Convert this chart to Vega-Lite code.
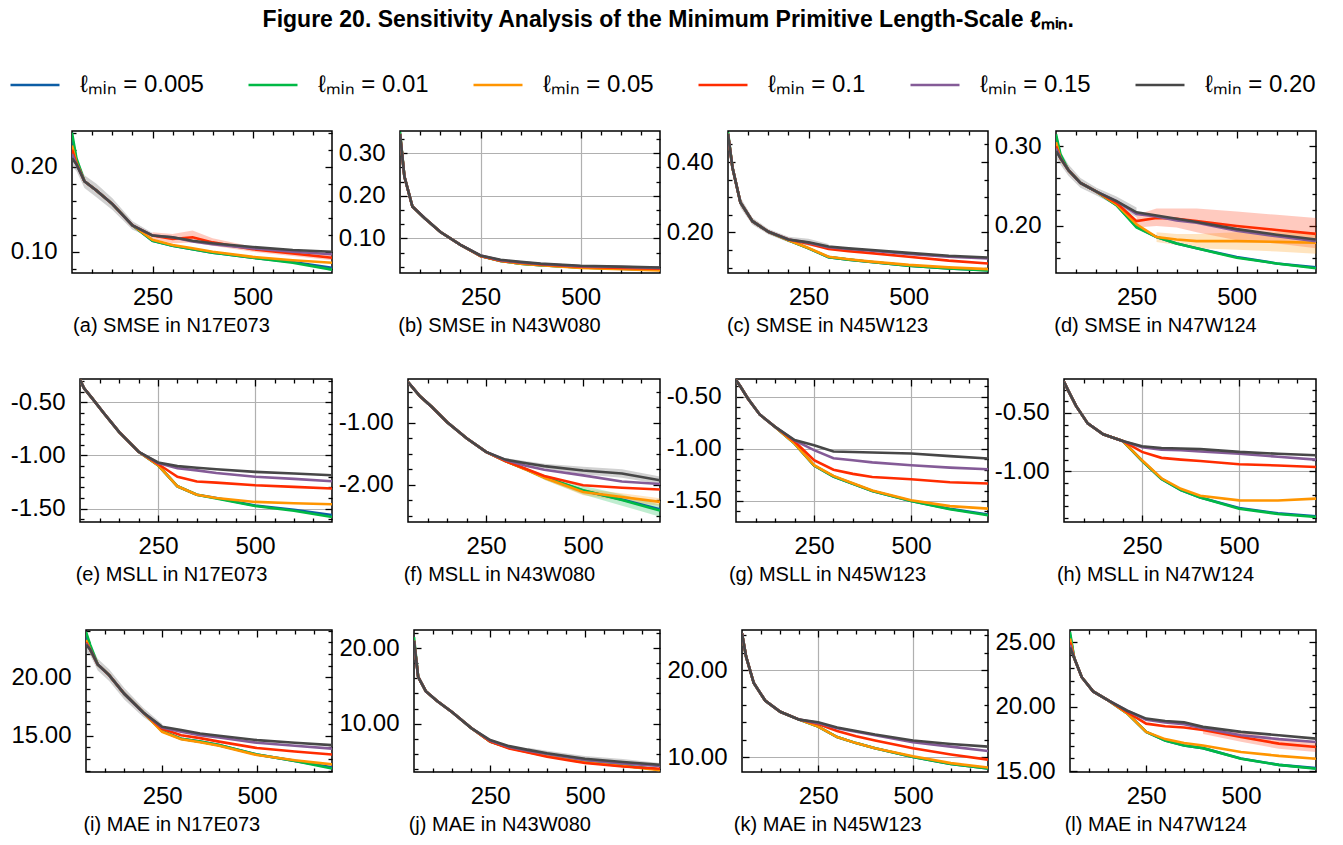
{
"$schema":"https://vega.github.io/schema/vega-lite/v6.json",
"padding":{"left":3,"top":9,"right":5,"bottom":5},
"title":{"text":"Figure 20.  Sensitivity Analysis of the Minimum Primitive Length-Scale ℓₘᵢₙ.","orient":"top","frame":"bounds","anchor":"middle","fontSize":23,"fontWeight":"bold","offset":27,"dx":8},
"datasets":{"bands":[
{"p":"a","s":"0.20","x":49,"lo":0.2,"hi":0.222},{"p":"a","s":"0.20","x":60,"lo":0.195,"hi":0.212},{"p":"a","s":"0.20","x":80,"lo":0.175,"hi":0.19},{"p":"a","s":"0.20","x":110,"lo":0.164,"hi":0.18},{"p":"a","s":"0.20","x":150,"lo":0.149,"hi":0.163},{"p":"a","s":"0.20","x":200,"lo":0.126,"hi":0.136},{"p":"a","s":"0.20","x":250,"lo":0.116,"hi":0.122},
{"p":"a","s":"0.1","x":250,"lo":0.115,"hi":0.123},{"p":"a","s":"0.1","x":300,"lo":0.11,"hi":0.121},{"p":"a","s":"0.1","x":350,"lo":0.111,"hi":0.125},{"p":"a","s":"0.1","x":400,"lo":0.107,"hi":0.116},{"p":"a","s":"0.1","x":500,"lo":0.1,"hi":0.106},{"p":"a","s":"0.1","x":600,"lo":0.095,"hi":0.101},{"p":"a","s":"0.1","x":698,"lo":0.09,"hi":0.096},
{"p":"c","s":"0.20","x":49,"lo":0.47,"hi":0.488},{"p":"c","s":"0.20","x":60,"lo":0.37,"hi":0.4},{"p":"c","s":"0.20","x":80,"lo":0.27,"hi":0.3},{"p":"c","s":"0.20","x":110,"lo":0.222,"hi":0.242},{"p":"c","s":"0.20","x":150,"lo":0.194,"hi":0.21},{"p":"c","s":"0.20","x":200,"lo":0.172,"hi":0.188},{"p":"c","s":"0.20","x":250,"lo":0.162,"hi":0.182},{"p":"c","s":"0.20","x":300,"lo":0.153,"hi":0.167},
{"p":"d","s":"0.1","x":250,"lo":0.198,"hi":0.214},{"p":"d","s":"0.1","x":300,"lo":0.2,"hi":0.222},{"p":"d","s":"0.1","x":350,"lo":0.198,"hi":0.222},{"p":"d","s":"0.1","x":400,"lo":0.192,"hi":0.222},{"p":"d","s":"0.1","x":500,"lo":0.182,"hi":0.218},{"p":"d","s":"0.1","x":600,"lo":0.178,"hi":0.214},{"p":"d","s":"0.1","x":698,"lo":0.172,"hi":0.21},
{"p":"d","s":"0.05","x":300,"lo":0.18,"hi":0.192},{"p":"d","s":"0.05","x":350,"lo":0.176,"hi":0.19},{"p":"d","s":"0.05","x":400,"lo":0.172,"hi":0.19},{"p":"d","s":"0.05","x":500,"lo":0.17,"hi":0.192},{"p":"d","s":"0.05","x":600,"lo":0.168,"hi":0.192},{"p":"d","s":"0.05","x":698,"lo":0.165,"hi":0.192},
{"p":"d","s":"0.20","x":49,"lo":0.285,"hi":0.303},{"p":"d","s":"0.20","x":60,"lo":0.277,"hi":0.293},{"p":"d","s":"0.20","x":80,"lo":0.263,"hi":0.277},{"p":"d","s":"0.20","x":110,"lo":0.248,"hi":0.26},{"p":"d","s":"0.20","x":150,"lo":0.238,"hi":0.248},{"p":"d","s":"0.20","x":200,"lo":0.225,"hi":0.237},{"p":"d","s":"0.20","x":250,"lo":0.211,"hi":0.223},
{"p":"f","s":"0.01","x":350,"lo":-1.77,"hi":-1.72},{"p":"f","s":"0.01","x":400,"lo":-1.92,"hi":-1.84},{"p":"f","s":"0.01","x":500,"lo":-2.16,"hi":-2.02},{"p":"f","s":"0.01","x":600,"lo":-2.34,"hi":-2.16},{"p":"f","s":"0.01","x":698,"lo":-2.52,"hi":-2.32},
{"p":"f","s":"0.05","x":400,"lo":-1.92,"hi":-1.86},{"p":"f","s":"0.05","x":500,"lo":-2.17,"hi":-2.07},{"p":"f","s":"0.05","x":600,"lo":-2.26,"hi":-2.14},{"p":"f","s":"0.05","x":698,"lo":-2.34,"hi":-2.22},
{"p":"f","s":"0.20","x":300,"lo":-1.62,"hi":-1.57},{"p":"f","s":"0.20","x":400,"lo":-1.74,"hi":-1.66},{"p":"f","s":"0.20","x":500,"lo":-1.83,"hi":-1.71},{"p":"f","s":"0.20","x":600,"lo":-1.89,"hi":-1.75},{"p":"f","s":"0.20","x":698,"lo":-1.99,"hi":-1.87},
{"p":"i","s":"0.20","x":49,"lo":22.2,"hi":23.4},{"p":"i","s":"0.20","x":60,"lo":21.9,"hi":22.9},{"p":"i","s":"0.20","x":80,"lo":20.6,"hi":21.6},{"p":"i","s":"0.20","x":110,"lo":19.7,"hi":20.7},{"p":"i","s":"0.20","x":150,"lo":18.1,"hi":19.1},{"p":"i","s":"0.20","x":200,"lo":16.6,"hi":17.4},{"p":"i","s":"0.20","x":250,"lo":15.5,"hi":16},
{"p":"j","s":"0.20","x":350,"lo":6.2,"hi":6.8},{"p":"j","s":"0.20","x":400,"lo":5.7,"hi":6.4},{"p":"j","s":"0.20","x":500,"lo":4.95,"hi":5.7},{"p":"j","s":"0.20","x":600,"lo":4.5,"hi":5.3},{"p":"j","s":"0.20","x":698,"lo":4.3,"hi":4.75},
{"p":"l","s":"0.1","x":400,"lo":17.9,"hi":18.5},{"p":"l","s":"0.1","x":500,"lo":17.3,"hi":18.05},{"p":"l","s":"0.1","x":600,"lo":16.75,"hi":17.55},{"p":"l","s":"0.1","x":698,"lo":16.5,"hi":17.3}
]},
"data":{"values":[
{"p":"a","s":"0.005","x":49,"y":0.235},{"p":"a","s":"0.005","x":60,"y":0.207},{"p":"a","s":"0.005","x":80,"y":0.183},{"p":"a","s":"0.005","x":110,"y":0.172},{"p":"a","s":"0.005","x":150,"y":0.156},{"p":"a","s":"0.005","x":200,"y":0.131},{"p":"a","s":"0.005","x":250,"y":0.113},{"p":"a","s":"0.005","x":300,"y":0.107},{"p":"a","s":"0.005","x":350,"y":0.103},{"p":"a","s":"0.005","x":400,"y":0.099},{"p":"a","s":"0.005","x":500,"y":0.093},{"p":"a","s":"0.005","x":600,"y":0.088},{"p":"a","s":"0.005","x":698,"y":0.081},
{"p":"a","s":"0.01","x":49,"y":0.24},{"p":"a","s":"0.01","x":60,"y":0.21},{"p":"a","s":"0.01","x":80,"y":0.183},{"p":"a","s":"0.01","x":110,"y":0.172},{"p":"a","s":"0.01","x":150,"y":0.156},{"p":"a","s":"0.01","x":200,"y":0.131},{"p":"a","s":"0.01","x":250,"y":0.113},{"p":"a","s":"0.01","x":300,"y":0.107},{"p":"a","s":"0.01","x":350,"y":0.103},{"p":"a","s":"0.01","x":400,"y":0.099},{"p":"a","s":"0.01","x":500,"y":0.093},{"p":"a","s":"0.01","x":600,"y":0.087},{"p":"a","s":"0.01","x":698,"y":0.079},
{"p":"a","s":"0.05","x":49,"y":0.225},{"p":"a","s":"0.05","x":60,"y":0.205},{"p":"a","s":"0.05","x":80,"y":0.183},{"p":"a","s":"0.05","x":110,"y":0.172},{"p":"a","s":"0.05","x":150,"y":0.156},{"p":"a","s":"0.05","x":200,"y":0.131},{"p":"a","s":"0.05","x":250,"y":0.114},{"p":"a","s":"0.05","x":300,"y":0.108},{"p":"a","s":"0.05","x":350,"y":0.104},{"p":"a","s":"0.05","x":400,"y":0.1},{"p":"a","s":"0.05","x":500,"y":0.094},{"p":"a","s":"0.05","x":600,"y":0.09},{"p":"a","s":"0.05","x":698,"y":0.087},
{"p":"a","s":"0.1","x":49,"y":0.22},{"p":"a","s":"0.1","x":60,"y":0.204},{"p":"a","s":"0.1","x":80,"y":0.183},{"p":"a","s":"0.1","x":110,"y":0.172},{"p":"a","s":"0.1","x":150,"y":0.156},{"p":"a","s":"0.1","x":200,"y":0.131},{"p":"a","s":"0.1","x":250,"y":0.119},{"p":"a","s":"0.1","x":300,"y":0.115},{"p":"a","s":"0.1","x":350,"y":0.117},{"p":"a","s":"0.1","x":400,"y":0.111},{"p":"a","s":"0.1","x":500,"y":0.103},{"p":"a","s":"0.1","x":600,"y":0.098},{"p":"a","s":"0.1","x":698,"y":0.093},
{"p":"a","s":"0.15","x":49,"y":0.215},{"p":"a","s":"0.15","x":60,"y":0.203},{"p":"a","s":"0.15","x":80,"y":0.183},{"p":"a","s":"0.15","x":110,"y":0.172},{"p":"a","s":"0.15","x":150,"y":0.156},{"p":"a","s":"0.15","x":200,"y":0.131},{"p":"a","s":"0.15","x":250,"y":0.119},{"p":"a","s":"0.15","x":300,"y":0.117},{"p":"a","s":"0.15","x":350,"y":0.112},{"p":"a","s":"0.15","x":400,"y":0.109},{"p":"a","s":"0.15","x":500,"y":0.104},{"p":"a","s":"0.15","x":600,"y":0.1},{"p":"a","s":"0.15","x":698,"y":0.097},
{"p":"a","s":"0.20","x":49,"y":0.21},{"p":"a","s":"0.20","x":60,"y":0.203},{"p":"a","s":"0.20","x":80,"y":0.183},{"p":"a","s":"0.20","x":110,"y":0.172},{"p":"a","s":"0.20","x":150,"y":0.156},{"p":"a","s":"0.20","x":200,"y":0.131},{"p":"a","s":"0.20","x":250,"y":0.119},{"p":"a","s":"0.20","x":300,"y":0.117},{"p":"a","s":"0.20","x":350,"y":0.113},{"p":"a","s":"0.20","x":400,"y":0.11},{"p":"a","s":"0.20","x":500,"y":0.1055},{"p":"a","s":"0.20","x":600,"y":0.102},{"p":"a","s":"0.20","x":698,"y":0.1},
{"p":"b","s":"0.005","x":49,"y":0.345},{"p":"b","s":"0.005","x":60,"y":0.245},{"p":"b","s":"0.005","x":80,"y":0.175},{"p":"b","s":"0.005","x":110,"y":0.148},{"p":"b","s":"0.005","x":150,"y":0.115},{"p":"b","s":"0.005","x":200,"y":0.085},{"p":"b","s":"0.005","x":250,"y":0.059},{"p":"b","s":"0.005","x":300,"y":0.047},{"p":"b","s":"0.005","x":350,"y":0.041},{"p":"b","s":"0.005","x":400,"y":0.037},{"p":"b","s":"0.005","x":500,"y":0.032},{"p":"b","s":"0.005","x":600,"y":0.029},{"p":"b","s":"0.005","x":698,"y":0.027},
{"p":"b","s":"0.01","x":49,"y":0.35},{"p":"b","s":"0.01","x":60,"y":0.245},{"p":"b","s":"0.01","x":80,"y":0.175},{"p":"b","s":"0.01","x":110,"y":0.148},{"p":"b","s":"0.01","x":150,"y":0.115},{"p":"b","s":"0.01","x":200,"y":0.085},{"p":"b","s":"0.01","x":250,"y":0.059},{"p":"b","s":"0.01","x":300,"y":0.047},{"p":"b","s":"0.01","x":350,"y":0.041},{"p":"b","s":"0.01","x":400,"y":0.037},{"p":"b","s":"0.01","x":500,"y":0.032},{"p":"b","s":"0.01","x":600,"y":0.029},{"p":"b","s":"0.01","x":698,"y":0.027},
{"p":"b","s":"0.05","x":49,"y":0.345},{"p":"b","s":"0.05","x":60,"y":0.245},{"p":"b","s":"0.05","x":80,"y":0.175},{"p":"b","s":"0.05","x":110,"y":0.148},{"p":"b","s":"0.05","x":150,"y":0.115},{"p":"b","s":"0.05","x":200,"y":0.085},{"p":"b","s":"0.05","x":250,"y":0.059},{"p":"b","s":"0.05","x":300,"y":0.047},{"p":"b","s":"0.05","x":350,"y":0.041},{"p":"b","s":"0.05","x":400,"y":0.037},{"p":"b","s":"0.05","x":500,"y":0.031},{"p":"b","s":"0.05","x":600,"y":0.028},{"p":"b","s":"0.05","x":698,"y":0.025},
{"p":"b","s":"0.1","x":49,"y":0.345},{"p":"b","s":"0.1","x":60,"y":0.245},{"p":"b","s":"0.1","x":80,"y":0.175},{"p":"b","s":"0.1","x":110,"y":0.148},{"p":"b","s":"0.1","x":150,"y":0.115},{"p":"b","s":"0.1","x":200,"y":0.085},{"p":"b","s":"0.1","x":250,"y":0.059},{"p":"b","s":"0.1","x":300,"y":0.048},{"p":"b","s":"0.1","x":350,"y":0.043},{"p":"b","s":"0.1","x":400,"y":0.039},{"p":"b","s":"0.1","x":500,"y":0.034},{"p":"b","s":"0.1","x":600,"y":0.031},{"p":"b","s":"0.1","x":698,"y":0.029},
{"p":"b","s":"0.15","x":49,"y":0.345},{"p":"b","s":"0.15","x":60,"y":0.245},{"p":"b","s":"0.15","x":80,"y":0.175},{"p":"b","s":"0.15","x":110,"y":0.148},{"p":"b","s":"0.15","x":150,"y":0.115},{"p":"b","s":"0.15","x":200,"y":0.085},{"p":"b","s":"0.15","x":250,"y":0.06},{"p":"b","s":"0.15","x":300,"y":0.049},{"p":"b","s":"0.15","x":350,"y":0.044},{"p":"b","s":"0.15","x":400,"y":0.04},{"p":"b","s":"0.15","x":500,"y":0.035},{"p":"b","s":"0.15","x":600,"y":0.033},{"p":"b","s":"0.15","x":698,"y":0.031},
{"p":"b","s":"0.20","x":49,"y":0.345},{"p":"b","s":"0.20","x":60,"y":0.245},{"p":"b","s":"0.20","x":80,"y":0.175},{"p":"b","s":"0.20","x":110,"y":0.148},{"p":"b","s":"0.20","x":150,"y":0.115},{"p":"b","s":"0.20","x":200,"y":0.085},{"p":"b","s":"0.20","x":250,"y":0.06},{"p":"b","s":"0.20","x":300,"y":0.05},{"p":"b","s":"0.20","x":350,"y":0.045},{"p":"b","s":"0.20","x":400,"y":0.041},{"p":"b","s":"0.20","x":500,"y":0.036},{"p":"b","s":"0.20","x":600,"y":0.034},{"p":"b","s":"0.20","x":698,"y":0.032},
{"p":"c","s":"0.005","x":49,"y":0.48},{"p":"c","s":"0.005","x":60,"y":0.385},{"p":"c","s":"0.005","x":80,"y":0.285},{"p":"c","s":"0.005","x":110,"y":0.232},{"p":"c","s":"0.005","x":150,"y":0.202},{"p":"c","s":"0.005","x":200,"y":0.178},{"p":"c","s":"0.005","x":250,"y":0.155},{"p":"c","s":"0.005","x":300,"y":0.13},{"p":"c","s":"0.005","x":350,"y":0.123},{"p":"c","s":"0.005","x":400,"y":0.117},{"p":"c","s":"0.005","x":500,"y":0.106},{"p":"c","s":"0.005","x":600,"y":0.098},{"p":"c","s":"0.005","x":698,"y":0.093},
{"p":"c","s":"0.01","x":49,"y":0.485},{"p":"c","s":"0.01","x":60,"y":0.385},{"p":"c","s":"0.01","x":80,"y":0.285},{"p":"c","s":"0.01","x":110,"y":0.232},{"p":"c","s":"0.01","x":150,"y":0.202},{"p":"c","s":"0.01","x":200,"y":0.178},{"p":"c","s":"0.01","x":250,"y":0.155},{"p":"c","s":"0.01","x":300,"y":0.13},{"p":"c","s":"0.01","x":350,"y":0.123},{"p":"c","s":"0.01","x":400,"y":0.117},{"p":"c","s":"0.01","x":500,"y":0.106},{"p":"c","s":"0.01","x":600,"y":0.098},{"p":"c","s":"0.01","x":698,"y":0.092},
{"p":"c","s":"0.05","x":49,"y":0.48},{"p":"c","s":"0.05","x":60,"y":0.385},{"p":"c","s":"0.05","x":80,"y":0.285},{"p":"c","s":"0.05","x":110,"y":0.232},{"p":"c","s":"0.05","x":150,"y":0.202},{"p":"c","s":"0.05","x":200,"y":0.178},{"p":"c","s":"0.05","x":250,"y":0.156},{"p":"c","s":"0.05","x":300,"y":0.131},{"p":"c","s":"0.05","x":350,"y":0.124},{"p":"c","s":"0.05","x":400,"y":0.118},{"p":"c","s":"0.05","x":500,"y":0.108},{"p":"c","s":"0.05","x":600,"y":0.101},{"p":"c","s":"0.05","x":698,"y":0.096},
{"p":"c","s":"0.1","x":49,"y":0.48},{"p":"c","s":"0.1","x":60,"y":0.385},{"p":"c","s":"0.1","x":80,"y":0.285},{"p":"c","s":"0.1","x":110,"y":0.232},{"p":"c","s":"0.1","x":150,"y":0.202},{"p":"c","s":"0.1","x":200,"y":0.18},{"p":"c","s":"0.1","x":250,"y":0.168},{"p":"c","s":"0.1","x":300,"y":0.153},{"p":"c","s":"0.1","x":350,"y":0.147},{"p":"c","s":"0.1","x":400,"y":0.142},{"p":"c","s":"0.1","x":500,"y":0.131},{"p":"c","s":"0.1","x":600,"y":0.12},{"p":"c","s":"0.1","x":698,"y":0.112},
{"p":"c","s":"0.15","x":49,"y":0.48},{"p":"c","s":"0.15","x":60,"y":0.385},{"p":"c","s":"0.15","x":80,"y":0.285},{"p":"c","s":"0.15","x":110,"y":0.232},{"p":"c","s":"0.15","x":150,"y":0.202},{"p":"c","s":"0.15","x":200,"y":0.18},{"p":"c","s":"0.15","x":250,"y":0.171},{"p":"c","s":"0.15","x":300,"y":0.158},{"p":"c","s":"0.15","x":350,"y":0.153},{"p":"c","s":"0.15","x":400,"y":0.149},{"p":"c","s":"0.15","x":500,"y":0.139},{"p":"c","s":"0.15","x":600,"y":0.131},{"p":"c","s":"0.15","x":698,"y":0.126},
{"p":"c","s":"0.20","x":49,"y":0.48},{"p":"c","s":"0.20","x":60,"y":0.385},{"p":"c","s":"0.20","x":80,"y":0.285},{"p":"c","s":"0.20","x":110,"y":0.232},{"p":"c","s":"0.20","x":150,"y":0.202},{"p":"c","s":"0.20","x":200,"y":0.18},{"p":"c","s":"0.20","x":250,"y":0.172},{"p":"c","s":"0.20","x":300,"y":0.16},{"p":"c","s":"0.20","x":350,"y":0.155},{"p":"c","s":"0.20","x":400,"y":0.151},{"p":"c","s":"0.20","x":500,"y":0.142},{"p":"c","s":"0.20","x":600,"y":0.134},{"p":"c","s":"0.20","x":698,"y":0.129},
{"p":"d","s":"0.005","x":49,"y":0.312},{"p":"d","s":"0.005","x":60,"y":0.287},{"p":"d","s":"0.005","x":80,"y":0.27},{"p":"d","s":"0.005","x":110,"y":0.254},{"p":"d","s":"0.005","x":150,"y":0.243},{"p":"d","s":"0.005","x":200,"y":0.226},{"p":"d","s":"0.005","x":250,"y":0.199},{"p":"d","s":"0.005","x":300,"y":0.186},{"p":"d","s":"0.005","x":350,"y":0.178},{"p":"d","s":"0.005","x":400,"y":0.172},{"p":"d","s":"0.005","x":500,"y":0.161},{"p":"d","s":"0.005","x":600,"y":0.153},{"p":"d","s":"0.005","x":698,"y":0.148},
{"p":"d","s":"0.01","x":49,"y":0.315},{"p":"d","s":"0.01","x":60,"y":0.29},{"p":"d","s":"0.01","x":80,"y":0.27},{"p":"d","s":"0.01","x":110,"y":0.254},{"p":"d","s":"0.01","x":150,"y":0.243},{"p":"d","s":"0.01","x":200,"y":0.226},{"p":"d","s":"0.01","x":250,"y":0.198},{"p":"d","s":"0.01","x":300,"y":0.186},{"p":"d","s":"0.01","x":350,"y":0.178},{"p":"d","s":"0.01","x":400,"y":0.172},{"p":"d","s":"0.01","x":500,"y":0.16},{"p":"d","s":"0.01","x":600,"y":0.153},{"p":"d","s":"0.01","x":698,"y":0.147},
{"p":"d","s":"0.05","x":49,"y":0.305},{"p":"d","s":"0.05","x":60,"y":0.285},{"p":"d","s":"0.05","x":80,"y":0.27},{"p":"d","s":"0.05","x":110,"y":0.254},{"p":"d","s":"0.05","x":150,"y":0.243},{"p":"d","s":"0.05","x":200,"y":0.227},{"p":"d","s":"0.05","x":250,"y":0.202},{"p":"d","s":"0.05","x":300,"y":0.186},{"p":"d","s":"0.05","x":350,"y":0.183},{"p":"d","s":"0.05","x":400,"y":0.181},{"p":"d","s":"0.05","x":500,"y":0.181},{"p":"d","s":"0.05","x":600,"y":0.18},{"p":"d","s":"0.05","x":698,"y":0.179},
{"p":"d","s":"0.1","x":49,"y":0.3},{"p":"d","s":"0.1","x":60,"y":0.285},{"p":"d","s":"0.1","x":80,"y":0.27},{"p":"d","s":"0.1","x":110,"y":0.254},{"p":"d","s":"0.1","x":150,"y":0.243},{"p":"d","s":"0.1","x":200,"y":0.229},{"p":"d","s":"0.1","x":250,"y":0.206},{"p":"d","s":"0.1","x":300,"y":0.21},{"p":"d","s":"0.1","x":350,"y":0.209},{"p":"d","s":"0.1","x":400,"y":0.206},{"p":"d","s":"0.1","x":500,"y":0.2},{"p":"d","s":"0.1","x":600,"y":0.195},{"p":"d","s":"0.1","x":698,"y":0.19},
{"p":"d","s":"0.15","x":49,"y":0.297},{"p":"d","s":"0.15","x":60,"y":0.285},{"p":"d","s":"0.15","x":80,"y":0.27},{"p":"d","s":"0.15","x":110,"y":0.254},{"p":"d","s":"0.15","x":150,"y":0.243},{"p":"d","s":"0.15","x":200,"y":0.231},{"p":"d","s":"0.15","x":250,"y":0.215},{"p":"d","s":"0.15","x":300,"y":0.212},{"p":"d","s":"0.15","x":350,"y":0.207},{"p":"d","s":"0.15","x":400,"y":0.204},{"p":"d","s":"0.15","x":500,"y":0.194},{"p":"d","s":"0.15","x":600,"y":0.187},{"p":"d","s":"0.15","x":698,"y":0.181},
{"p":"d","s":"0.20","x":49,"y":0.294},{"p":"d","s":"0.20","x":60,"y":0.285},{"p":"d","s":"0.20","x":80,"y":0.27},{"p":"d","s":"0.20","x":110,"y":0.254},{"p":"d","s":"0.20","x":150,"y":0.243},{"p":"d","s":"0.20","x":200,"y":0.231},{"p":"d","s":"0.20","x":250,"y":0.217},{"p":"d","s":"0.20","x":300,"y":0.213},{"p":"d","s":"0.20","x":350,"y":0.209},{"p":"d","s":"0.20","x":400,"y":0.205},{"p":"d","s":"0.20","x":500,"y":0.196},{"p":"d","s":"0.20","x":600,"y":0.189},{"p":"d","s":"0.20","x":698,"y":0.183},
{"p":"e","s":"0.005","x":49,"y":-0.29},{"p":"e","s":"0.005","x":60,"y":-0.37},{"p":"e","s":"0.005","x":80,"y":-0.46},{"p":"e","s":"0.005","x":110,"y":-0.6},{"p":"e","s":"0.005","x":150,"y":-0.78},{"p":"e","s":"0.005","x":200,"y":-0.965},{"p":"e","s":"0.005","x":250,"y":-1.09},{"p":"e","s":"0.005","x":300,"y":-1.29},{"p":"e","s":"0.005","x":350,"y":-1.37},{"p":"e","s":"0.005","x":400,"y":-1.4},{"p":"e","s":"0.005","x":500,"y":-1.47},{"p":"e","s":"0.005","x":600,"y":-1.51},{"p":"e","s":"0.005","x":698,"y":-1.56},
{"p":"e","s":"0.01","x":49,"y":-0.29},{"p":"e","s":"0.01","x":60,"y":-0.37},{"p":"e","s":"0.01","x":80,"y":-0.46},{"p":"e","s":"0.01","x":110,"y":-0.6},{"p":"e","s":"0.01","x":150,"y":-0.78},{"p":"e","s":"0.01","x":200,"y":-0.965},{"p":"e","s":"0.01","x":250,"y":-1.09},{"p":"e","s":"0.01","x":300,"y":-1.29},{"p":"e","s":"0.01","x":350,"y":-1.37},{"p":"e","s":"0.01","x":400,"y":-1.405},{"p":"e","s":"0.01","x":500,"y":-1.475},{"p":"e","s":"0.01","x":600,"y":-1.52},{"p":"e","s":"0.01","x":698,"y":-1.579},
{"p":"e","s":"0.05","x":49,"y":-0.29},{"p":"e","s":"0.05","x":60,"y":-0.37},{"p":"e","s":"0.05","x":80,"y":-0.46},{"p":"e","s":"0.05","x":110,"y":-0.6},{"p":"e","s":"0.05","x":150,"y":-0.78},{"p":"e","s":"0.05","x":200,"y":-0.965},{"p":"e","s":"0.05","x":250,"y":-1.09},{"p":"e","s":"0.05","x":300,"y":-1.29},{"p":"e","s":"0.05","x":350,"y":-1.37},{"p":"e","s":"0.05","x":400,"y":-1.4},{"p":"e","s":"0.05","x":500,"y":-1.437},{"p":"e","s":"0.05","x":600,"y":-1.45},{"p":"e","s":"0.05","x":698,"y":-1.459},
{"p":"e","s":"0.1","x":49,"y":-0.29},{"p":"e","s":"0.1","x":60,"y":-0.37},{"p":"e","s":"0.1","x":80,"y":-0.46},{"p":"e","s":"0.1","x":110,"y":-0.6},{"p":"e","s":"0.1","x":150,"y":-0.78},{"p":"e","s":"0.1","x":200,"y":-0.965},{"p":"e","s":"0.1","x":250,"y":-1.08},{"p":"e","s":"0.1","x":300,"y":-1.2},{"p":"e","s":"0.1","x":350,"y":-1.245},{"p":"e","s":"0.1","x":400,"y":-1.255},{"p":"e","s":"0.1","x":500,"y":-1.28},{"p":"e","s":"0.1","x":600,"y":-1.295},{"p":"e","s":"0.1","x":698,"y":-1.311},
{"p":"e","s":"0.15","x":49,"y":-0.29},{"p":"e","s":"0.15","x":60,"y":-0.37},{"p":"e","s":"0.15","x":80,"y":-0.46},{"p":"e","s":"0.15","x":110,"y":-0.6},{"p":"e","s":"0.15","x":150,"y":-0.78},{"p":"e","s":"0.15","x":200,"y":-0.965},{"p":"e","s":"0.15","x":250,"y":-1.07},{"p":"e","s":"0.15","x":300,"y":-1.12},{"p":"e","s":"0.15","x":350,"y":-1.14},{"p":"e","s":"0.15","x":400,"y":-1.165},{"p":"e","s":"0.15","x":500,"y":-1.2},{"p":"e","s":"0.15","x":600,"y":-1.22},{"p":"e","s":"0.15","x":698,"y":-1.242},
{"p":"e","s":"0.20","x":49,"y":-0.29},{"p":"e","s":"0.20","x":60,"y":-0.37},{"p":"e","s":"0.20","x":80,"y":-0.46},{"p":"e","s":"0.20","x":110,"y":-0.6},{"p":"e","s":"0.20","x":150,"y":-0.78},{"p":"e","s":"0.20","x":200,"y":-0.965},{"p":"e","s":"0.20","x":250,"y":-1.066},{"p":"e","s":"0.20","x":300,"y":-1.1},{"p":"e","s":"0.20","x":350,"y":-1.115},{"p":"e","s":"0.20","x":400,"y":-1.13},{"p":"e","s":"0.20","x":500,"y":-1.154},{"p":"e","s":"0.20","x":600,"y":-1.17},{"p":"e","s":"0.20","x":698,"y":-1.186},
{"p":"f","s":"0.005","x":49,"y":-0.34},{"p":"f","s":"0.005","x":60,"y":-0.42},{"p":"f","s":"0.005","x":80,"y":-0.57},{"p":"f","s":"0.005","x":110,"y":-0.74},{"p":"f","s":"0.005","x":150,"y":-0.99},{"p":"f","s":"0.005","x":200,"y":-1.25},{"p":"f","s":"0.005","x":250,"y":-1.47},{"p":"f","s":"0.005","x":300,"y":-1.62},{"p":"f","s":"0.005","x":350,"y":-1.745},{"p":"f","s":"0.005","x":400,"y":-1.88},{"p":"f","s":"0.005","x":500,"y":-2.1},{"p":"f","s":"0.005","x":600,"y":-2.24},{"p":"f","s":"0.005","x":698,"y":-2.4},
{"p":"f","s":"0.01","x":49,"y":-0.34},{"p":"f","s":"0.01","x":60,"y":-0.42},{"p":"f","s":"0.01","x":80,"y":-0.57},{"p":"f","s":"0.01","x":110,"y":-0.74},{"p":"f","s":"0.01","x":150,"y":-0.99},{"p":"f","s":"0.01","x":200,"y":-1.25},{"p":"f","s":"0.01","x":250,"y":-1.47},{"p":"f","s":"0.01","x":300,"y":-1.62},{"p":"f","s":"0.01","x":350,"y":-1.745},{"p":"f","s":"0.01","x":400,"y":-1.88},{"p":"f","s":"0.01","x":500,"y":-2.09},{"p":"f","s":"0.01","x":600,"y":-2.25},{"p":"f","s":"0.01","x":698,"y":-2.42},
{"p":"f","s":"0.05","x":49,"y":-0.34},{"p":"f","s":"0.05","x":60,"y":-0.42},{"p":"f","s":"0.05","x":80,"y":-0.57},{"p":"f","s":"0.05","x":110,"y":-0.74},{"p":"f","s":"0.05","x":150,"y":-0.99},{"p":"f","s":"0.05","x":200,"y":-1.25},{"p":"f","s":"0.05","x":250,"y":-1.47},{"p":"f","s":"0.05","x":300,"y":-1.62},{"p":"f","s":"0.05","x":350,"y":-1.75},{"p":"f","s":"0.05","x":400,"y":-1.89},{"p":"f","s":"0.05","x":500,"y":-2.12},{"p":"f","s":"0.05","x":600,"y":-2.2},{"p":"f","s":"0.05","x":698,"y":-2.28},
{"p":"f","s":"0.1","x":49,"y":-0.34},{"p":"f","s":"0.1","x":60,"y":-0.42},{"p":"f","s":"0.1","x":80,"y":-0.57},{"p":"f","s":"0.1","x":110,"y":-0.74},{"p":"f","s":"0.1","x":150,"y":-0.99},{"p":"f","s":"0.1","x":200,"y":-1.25},{"p":"f","s":"0.1","x":250,"y":-1.47},{"p":"f","s":"0.1","x":300,"y":-1.62},{"p":"f","s":"0.1","x":350,"y":-1.74},{"p":"f","s":"0.1","x":400,"y":-1.86},{"p":"f","s":"0.1","x":500,"y":-2.01},{"p":"f","s":"0.1","x":600,"y":-2.05},{"p":"f","s":"0.1","x":698,"y":-2.08},
{"p":"f","s":"0.15","x":49,"y":-0.34},{"p":"f","s":"0.15","x":60,"y":-0.42},{"p":"f","s":"0.15","x":80,"y":-0.57},{"p":"f","s":"0.15","x":110,"y":-0.74},{"p":"f","s":"0.15","x":150,"y":-0.99},{"p":"f","s":"0.15","x":200,"y":-1.25},{"p":"f","s":"0.15","x":250,"y":-1.47},{"p":"f","s":"0.15","x":300,"y":-1.6},{"p":"f","s":"0.15","x":350,"y":-1.69},{"p":"f","s":"0.15","x":400,"y":-1.76},{"p":"f","s":"0.15","x":500,"y":-1.85},{"p":"f","s":"0.15","x":600,"y":-1.95},{"p":"f","s":"0.15","x":698,"y":-1.99},
{"p":"f","s":"0.20","x":49,"y":-0.34},{"p":"f","s":"0.20","x":60,"y":-0.42},{"p":"f","s":"0.20","x":80,"y":-0.57},{"p":"f","s":"0.20","x":110,"y":-0.74},{"p":"f","s":"0.20","x":150,"y":-0.99},{"p":"f","s":"0.20","x":200,"y":-1.25},{"p":"f","s":"0.20","x":250,"y":-1.47},{"p":"f","s":"0.20","x":300,"y":-1.595},{"p":"f","s":"0.20","x":350,"y":-1.65},{"p":"f","s":"0.20","x":400,"y":-1.7},{"p":"f","s":"0.20","x":500,"y":-1.77},{"p":"f","s":"0.20","x":600,"y":-1.82},{"p":"f","s":"0.20","x":698,"y":-1.93},
{"p":"g","s":"0.005","x":49,"y":-0.34},{"p":"g","s":"0.005","x":60,"y":-0.4},{"p":"g","s":"0.005","x":80,"y":-0.52},{"p":"g","s":"0.005","x":110,"y":-0.67},{"p":"g","s":"0.005","x":150,"y":-0.79},{"p":"g","s":"0.005","x":200,"y":-0.95},{"p":"g","s":"0.005","x":250,"y":-1.16},{"p":"g","s":"0.005","x":300,"y":-1.265},{"p":"g","s":"0.005","x":350,"y":-1.335},{"p":"g","s":"0.005","x":400,"y":-1.405},{"p":"g","s":"0.005","x":500,"y":-1.5},{"p":"g","s":"0.005","x":600,"y":-1.575},{"p":"g","s":"0.005","x":698,"y":-1.63},
{"p":"g","s":"0.01","x":49,"y":-0.34},{"p":"g","s":"0.01","x":60,"y":-0.4},{"p":"g","s":"0.01","x":80,"y":-0.52},{"p":"g","s":"0.01","x":110,"y":-0.67},{"p":"g","s":"0.01","x":150,"y":-0.79},{"p":"g","s":"0.01","x":200,"y":-0.95},{"p":"g","s":"0.01","x":250,"y":-1.16},{"p":"g","s":"0.01","x":300,"y":-1.265},{"p":"g","s":"0.01","x":350,"y":-1.335},{"p":"g","s":"0.01","x":400,"y":-1.405},{"p":"g","s":"0.01","x":500,"y":-1.5},{"p":"g","s":"0.01","x":600,"y":-1.58},{"p":"g","s":"0.01","x":698,"y":-1.638},
{"p":"g","s":"0.05","x":49,"y":-0.34},{"p":"g","s":"0.05","x":60,"y":-0.4},{"p":"g","s":"0.05","x":80,"y":-0.52},{"p":"g","s":"0.05","x":110,"y":-0.67},{"p":"g","s":"0.05","x":150,"y":-0.79},{"p":"g","s":"0.05","x":200,"y":-0.95},{"p":"g","s":"0.05","x":250,"y":-1.157},{"p":"g","s":"0.05","x":300,"y":-1.26},{"p":"g","s":"0.05","x":350,"y":-1.33},{"p":"g","s":"0.05","x":400,"y":-1.4},{"p":"g","s":"0.05","x":500,"y":-1.494},{"p":"g","s":"0.05","x":600,"y":-1.55},{"p":"g","s":"0.05","x":698,"y":-1.574},
{"p":"g","s":"0.1","x":49,"y":-0.34},{"p":"g","s":"0.1","x":60,"y":-0.4},{"p":"g","s":"0.1","x":80,"y":-0.52},{"p":"g","s":"0.1","x":110,"y":-0.67},{"p":"g","s":"0.1","x":150,"y":-0.79},{"p":"g","s":"0.1","x":200,"y":-0.93},{"p":"g","s":"0.1","x":250,"y":-1.109},{"p":"g","s":"0.1","x":300,"y":-1.2},{"p":"g","s":"0.1","x":350,"y":-1.24},{"p":"g","s":"0.1","x":400,"y":-1.27},{"p":"g","s":"0.1","x":500,"y":-1.292},{"p":"g","s":"0.1","x":600,"y":-1.32},{"p":"g","s":"0.1","x":698,"y":-1.333},
{"p":"g","s":"0.15","x":49,"y":-0.34},{"p":"g","s":"0.15","x":60,"y":-0.4},{"p":"g","s":"0.15","x":80,"y":-0.52},{"p":"g","s":"0.15","x":110,"y":-0.67},{"p":"g","s":"0.15","x":150,"y":-0.79},{"p":"g","s":"0.15","x":200,"y":-0.92},{"p":"g","s":"0.15","x":250,"y":-1.013},{"p":"g","s":"0.15","x":300,"y":-1.09},{"p":"g","s":"0.15","x":350,"y":-1.11},{"p":"g","s":"0.15","x":400,"y":-1.13},{"p":"g","s":"0.15","x":500,"y":-1.157},{"p":"g","s":"0.15","x":600,"y":-1.18},{"p":"g","s":"0.15","x":698,"y":-1.196},
{"p":"g","s":"0.20","x":49,"y":-0.34},{"p":"g","s":"0.20","x":60,"y":-0.4},{"p":"g","s":"0.20","x":80,"y":-0.52},{"p":"g","s":"0.20","x":110,"y":-0.67},{"p":"g","s":"0.20","x":150,"y":-0.79},{"p":"g","s":"0.20","x":200,"y":-0.915},{"p":"g","s":"0.20","x":250,"y":-0.965},{"p":"g","s":"0.20","x":300,"y":-1.025},{"p":"g","s":"0.20","x":350,"y":-1.03},{"p":"g","s":"0.20","x":400,"y":-1.035},{"p":"g","s":"0.20","x":500,"y":-1.045},{"p":"g","s":"0.20","x":600,"y":-1.07},{"p":"g","s":"0.20","x":698,"y":-1.093},
{"p":"h","s":"0.005","x":49,"y":-0.234},{"p":"h","s":"0.005","x":60,"y":-0.31},{"p":"h","s":"0.005","x":80,"y":-0.44},{"p":"h","s":"0.005","x":110,"y":-0.59},{"p":"h","s":"0.005","x":150,"y":-0.683},{"p":"h","s":"0.005","x":200,"y":-0.74},{"p":"h","s":"0.005","x":250,"y":-0.91},{"p":"h","s":"0.005","x":300,"y":-1.065},{"p":"h","s":"0.005","x":350,"y":-1.16},{"p":"h","s":"0.005","x":400,"y":-1.225},{"p":"h","s":"0.005","x":500,"y":-1.315},{"p":"h","s":"0.005","x":600,"y":-1.36},{"p":"h","s":"0.005","x":698,"y":-1.385},
{"p":"h","s":"0.01","x":49,"y":-0.234},{"p":"h","s":"0.01","x":60,"y":-0.31},{"p":"h","s":"0.01","x":80,"y":-0.44},{"p":"h","s":"0.01","x":110,"y":-0.59},{"p":"h","s":"0.01","x":150,"y":-0.683},{"p":"h","s":"0.01","x":200,"y":-0.74},{"p":"h","s":"0.01","x":250,"y":-0.91},{"p":"h","s":"0.01","x":300,"y":-1.065},{"p":"h","s":"0.01","x":350,"y":-1.16},{"p":"h","s":"0.01","x":400,"y":-1.225},{"p":"h","s":"0.01","x":500,"y":-1.32},{"p":"h","s":"0.01","x":600,"y":-1.365},{"p":"h","s":"0.01","x":698,"y":-1.391},
{"p":"h","s":"0.05","x":49,"y":-0.234},{"p":"h","s":"0.05","x":60,"y":-0.31},{"p":"h","s":"0.05","x":80,"y":-0.44},{"p":"h","s":"0.05","x":110,"y":-0.59},{"p":"h","s":"0.05","x":150,"y":-0.683},{"p":"h","s":"0.05","x":200,"y":-0.74},{"p":"h","s":"0.05","x":250,"y":-0.906},{"p":"h","s":"0.05","x":300,"y":-1.06},{"p":"h","s":"0.05","x":350,"y":-1.15},{"p":"h","s":"0.05","x":400,"y":-1.21},{"p":"h","s":"0.05","x":500,"y":-1.249},{"p":"h","s":"0.05","x":600,"y":-1.25},{"p":"h","s":"0.05","x":698,"y":-1.234},
{"p":"h","s":"0.1","x":49,"y":-0.234},{"p":"h","s":"0.1","x":60,"y":-0.31},{"p":"h","s":"0.1","x":80,"y":-0.44},{"p":"h","s":"0.1","x":110,"y":-0.59},{"p":"h","s":"0.1","x":150,"y":-0.683},{"p":"h","s":"0.1","x":200,"y":-0.74},{"p":"h","s":"0.1","x":250,"y":-0.834},{"p":"h","s":"0.1","x":300,"y":-0.885},{"p":"h","s":"0.1","x":350,"y":-0.9},{"p":"h","s":"0.1","x":400,"y":-0.912},{"p":"h","s":"0.1","x":500,"y":-0.94},{"p":"h","s":"0.1","x":600,"y":-0.95},{"p":"h","s":"0.1","x":698,"y":-0.963},
{"p":"h","s":"0.15","x":49,"y":-0.234},{"p":"h","s":"0.15","x":60,"y":-0.31},{"p":"h","s":"0.15","x":80,"y":-0.44},{"p":"h","s":"0.15","x":110,"y":-0.59},{"p":"h","s":"0.15","x":150,"y":-0.683},{"p":"h","s":"0.15","x":200,"y":-0.74},{"p":"h","s":"0.15","x":250,"y":-0.795},{"p":"h","s":"0.15","x":300,"y":-0.815},{"p":"h","s":"0.15","x":350,"y":-0.82},{"p":"h","s":"0.15","x":400,"y":-0.83},{"p":"h","s":"0.15","x":500,"y":-0.85},{"p":"h","s":"0.15","x":600,"y":-0.875},{"p":"h","s":"0.15","x":698,"y":-0.9},
{"p":"h","s":"0.20","x":49,"y":-0.234},{"p":"h","s":"0.20","x":60,"y":-0.31},{"p":"h","s":"0.20","x":80,"y":-0.44},{"p":"h","s":"0.20","x":110,"y":-0.59},{"p":"h","s":"0.20","x":150,"y":-0.683},{"p":"h","s":"0.20","x":200,"y":-0.74},{"p":"h","s":"0.20","x":250,"y":-0.786},{"p":"h","s":"0.20","x":300,"y":-0.8},{"p":"h","s":"0.20","x":350,"y":-0.805},{"p":"h","s":"0.20","x":400,"y":-0.81},{"p":"h","s":"0.20","x":500,"y":-0.834},{"p":"h","s":"0.20","x":600,"y":-0.85},{"p":"h","s":"0.20","x":698,"y":-0.863},
{"p":"i","s":"0.005","x":49,"y":23.6},{"p":"i","s":"0.005","x":60,"y":22.4},{"p":"i","s":"0.005","x":80,"y":21.1},{"p":"i","s":"0.005","x":110,"y":20.2},{"p":"i","s":"0.005","x":150,"y":18.6},{"p":"i","s":"0.005","x":200,"y":17},{"p":"i","s":"0.005","x":250,"y":15.4},{"p":"i","s":"0.005","x":300,"y":14.75},{"p":"i","s":"0.005","x":350,"y":14.5},{"p":"i","s":"0.005","x":400,"y":14.2},{"p":"i","s":"0.005","x":500,"y":13.4},{"p":"i","s":"0.005","x":600,"y":12.85},{"p":"i","s":"0.005","x":698,"y":12.3},
{"p":"i","s":"0.01","x":49,"y":23.9},{"p":"i","s":"0.01","x":60,"y":22.8},{"p":"i","s":"0.01","x":80,"y":21.1},{"p":"i","s":"0.01","x":110,"y":20.2},{"p":"i","s":"0.01","x":150,"y":18.6},{"p":"i","s":"0.01","x":200,"y":17},{"p":"i","s":"0.01","x":250,"y":15.4},{"p":"i","s":"0.01","x":300,"y":14.75},{"p":"i","s":"0.01","x":350,"y":14.5},{"p":"i","s":"0.01","x":400,"y":14.2},{"p":"i","s":"0.01","x":500,"y":13.4},{"p":"i","s":"0.01","x":600,"y":12.85},{"p":"i","s":"0.01","x":698,"y":12.2},
{"p":"i","s":"0.05","x":49,"y":23.2},{"p":"i","s":"0.05","x":60,"y":22.4},{"p":"i","s":"0.05","x":80,"y":21.1},{"p":"i","s":"0.05","x":110,"y":20.2},{"p":"i","s":"0.05","x":150,"y":18.6},{"p":"i","s":"0.05","x":200,"y":17},{"p":"i","s":"0.05","x":250,"y":15.34},{"p":"i","s":"0.05","x":300,"y":14.7},{"p":"i","s":"0.05","x":350,"y":14.45},{"p":"i","s":"0.05","x":400,"y":14.15},{"p":"i","s":"0.05","x":500,"y":13.35},{"p":"i","s":"0.05","x":600,"y":12.9},{"p":"i","s":"0.05","x":698,"y":12.55},
{"p":"i","s":"0.1","x":49,"y":23},{"p":"i","s":"0.1","x":60,"y":22.4},{"p":"i","s":"0.1","x":80,"y":21.1},{"p":"i","s":"0.1","x":110,"y":20.2},{"p":"i","s":"0.1","x":150,"y":18.6},{"p":"i","s":"0.1","x":200,"y":17},{"p":"i","s":"0.1","x":250,"y":15.6},{"p":"i","s":"0.1","x":300,"y":15.05},{"p":"i","s":"0.1","x":350,"y":14.8},{"p":"i","s":"0.1","x":400,"y":14.5},{"p":"i","s":"0.1","x":500,"y":13.95},{"p":"i","s":"0.1","x":600,"y":13.65},{"p":"i","s":"0.1","x":698,"y":13.4},
{"p":"i","s":"0.15","x":49,"y":22.9},{"p":"i","s":"0.15","x":60,"y":22.4},{"p":"i","s":"0.15","x":80,"y":21.1},{"p":"i","s":"0.15","x":110,"y":20.2},{"p":"i","s":"0.15","x":150,"y":18.6},{"p":"i","s":"0.15","x":200,"y":17},{"p":"i","s":"0.15","x":250,"y":15.7},{"p":"i","s":"0.15","x":300,"y":15.35},{"p":"i","s":"0.15","x":350,"y":15.05},{"p":"i","s":"0.15","x":400,"y":14.85},{"p":"i","s":"0.15","x":500,"y":14.4},{"p":"i","s":"0.15","x":600,"y":14.15},{"p":"i","s":"0.15","x":698,"y":13.9},
{"p":"i","s":"0.20","x":49,"y":22.8},{"p":"i","s":"0.20","x":60,"y":22.4},{"p":"i","s":"0.20","x":80,"y":21.1},{"p":"i","s":"0.20","x":110,"y":20.2},{"p":"i","s":"0.20","x":150,"y":18.6},{"p":"i","s":"0.20","x":200,"y":17},{"p":"i","s":"0.20","x":250,"y":15.77},{"p":"i","s":"0.20","x":300,"y":15.5},{"p":"i","s":"0.20","x":350,"y":15.2},{"p":"i","s":"0.20","x":400,"y":15},{"p":"i","s":"0.20","x":500,"y":14.63},{"p":"i","s":"0.20","x":600,"y":14.4},{"p":"i","s":"0.20","x":698,"y":14.2},
{"p":"j","s":"0.005","x":49,"y":21},{"p":"j","s":"0.005","x":60,"y":16.2},{"p":"j","s":"0.005","x":80,"y":14.3},{"p":"j","s":"0.005","x":110,"y":13},{"p":"j","s":"0.005","x":150,"y":11.5},{"p":"j","s":"0.005","x":200,"y":9.4},{"p":"j","s":"0.005","x":250,"y":7.6},{"p":"j","s":"0.005","x":300,"y":6.8},{"p":"j","s":"0.005","x":350,"y":6.25},{"p":"j","s":"0.005","x":400,"y":5.75},{"p":"j","s":"0.005","x":500,"y":4.9},{"p":"j","s":"0.005","x":600,"y":4.4},{"p":"j","s":"0.005","x":698,"y":3.9},
{"p":"j","s":"0.01","x":49,"y":21.5},{"p":"j","s":"0.01","x":60,"y":16.2},{"p":"j","s":"0.01","x":80,"y":14.3},{"p":"j","s":"0.01","x":110,"y":13},{"p":"j","s":"0.01","x":150,"y":11.5},{"p":"j","s":"0.01","x":200,"y":9.4},{"p":"j","s":"0.01","x":250,"y":7.6},{"p":"j","s":"0.01","x":300,"y":6.8},{"p":"j","s":"0.01","x":350,"y":6.25},{"p":"j","s":"0.01","x":400,"y":5.75},{"p":"j","s":"0.01","x":500,"y":4.9},{"p":"j","s":"0.01","x":600,"y":4.4},{"p":"j","s":"0.01","x":698,"y":3.9},
{"p":"j","s":"0.05","x":49,"y":21},{"p":"j","s":"0.05","x":60,"y":16.2},{"p":"j","s":"0.05","x":80,"y":14.3},{"p":"j","s":"0.05","x":110,"y":13},{"p":"j","s":"0.05","x":150,"y":11.5},{"p":"j","s":"0.05","x":200,"y":9.4},{"p":"j","s":"0.05","x":250,"y":7.6},{"p":"j","s":"0.05","x":300,"y":6.75},{"p":"j","s":"0.05","x":350,"y":6.2},{"p":"j","s":"0.05","x":400,"y":5.7},{"p":"j","s":"0.05","x":500,"y":4.85},{"p":"j","s":"0.05","x":600,"y":4.35},{"p":"j","s":"0.05","x":698,"y":3.8},
{"p":"j","s":"0.1","x":49,"y":21},{"p":"j","s":"0.1","x":60,"y":16.2},{"p":"j","s":"0.1","x":80,"y":14.3},{"p":"j","s":"0.1","x":110,"y":13},{"p":"j","s":"0.1","x":150,"y":11.5},{"p":"j","s":"0.1","x":200,"y":9.4},{"p":"j","s":"0.1","x":250,"y":7.6},{"p":"j","s":"0.1","x":300,"y":6.7},{"p":"j","s":"0.1","x":350,"y":6.15},{"p":"j","s":"0.1","x":400,"y":5.6},{"p":"j","s":"0.1","x":500,"y":4.75},{"p":"j","s":"0.1","x":600,"y":4.3},{"p":"j","s":"0.1","x":698,"y":4},
{"p":"j","s":"0.15","x":49,"y":21},{"p":"j","s":"0.15","x":60,"y":16.2},{"p":"j","s":"0.15","x":80,"y":14.3},{"p":"j","s":"0.15","x":110,"y":13},{"p":"j","s":"0.15","x":150,"y":11.5},{"p":"j","s":"0.15","x":200,"y":9.4},{"p":"j","s":"0.15","x":250,"y":7.75},{"p":"j","s":"0.15","x":300,"y":6.9},{"p":"j","s":"0.15","x":350,"y":6.4},{"p":"j","s":"0.15","x":400,"y":5.95},{"p":"j","s":"0.15","x":500,"y":5.15},{"p":"j","s":"0.15","x":600,"y":4.7},{"p":"j","s":"0.15","x":698,"y":4.35},
{"p":"j","s":"0.20","x":49,"y":21},{"p":"j","s":"0.20","x":60,"y":16.2},{"p":"j","s":"0.20","x":80,"y":14.3},{"p":"j","s":"0.20","x":110,"y":13},{"p":"j","s":"0.20","x":150,"y":11.5},{"p":"j","s":"0.20","x":200,"y":9.4},{"p":"j","s":"0.20","x":250,"y":7.8},{"p":"j","s":"0.20","x":300,"y":7},{"p":"j","s":"0.20","x":350,"y":6.5},{"p":"j","s":"0.20","x":400,"y":6.05},{"p":"j","s":"0.20","x":500,"y":5.33},{"p":"j","s":"0.20","x":600,"y":4.89},{"p":"j","s":"0.20","x":698,"y":4.53},
{"p":"k","s":"0.005","x":49,"y":24.2},{"p":"k","s":"0.005","x":60,"y":21.5},{"p":"k","s":"0.005","x":80,"y":18.5},{"p":"k","s":"0.005","x":110,"y":16.5},{"p":"k","s":"0.005","x":150,"y":15.2},{"p":"k","s":"0.005","x":200,"y":14.3},{"p":"k","s":"0.005","x":250,"y":13.5},{"p":"k","s":"0.005","x":300,"y":12.3},{"p":"k","s":"0.005","x":350,"y":11.6},{"p":"k","s":"0.005","x":400,"y":11},{"p":"k","s":"0.005","x":500,"y":10},{"p":"k","s":"0.005","x":600,"y":9.2},{"p":"k","s":"0.005","x":698,"y":8.7},
{"p":"k","s":"0.01","x":49,"y":24.2},{"p":"k","s":"0.01","x":60,"y":21.5},{"p":"k","s":"0.01","x":80,"y":18.5},{"p":"k","s":"0.01","x":110,"y":16.5},{"p":"k","s":"0.01","x":150,"y":15.2},{"p":"k","s":"0.01","x":200,"y":14.3},{"p":"k","s":"0.01","x":250,"y":13.5},{"p":"k","s":"0.01","x":300,"y":12.3},{"p":"k","s":"0.01","x":350,"y":11.6},{"p":"k","s":"0.01","x":400,"y":11},{"p":"k","s":"0.01","x":500,"y":10},{"p":"k","s":"0.01","x":600,"y":9.2},{"p":"k","s":"0.01","x":698,"y":8.7},
{"p":"k","s":"0.05","x":49,"y":24.2},{"p":"k","s":"0.05","x":60,"y":21.5},{"p":"k","s":"0.05","x":80,"y":18.5},{"p":"k","s":"0.05","x":110,"y":16.5},{"p":"k","s":"0.05","x":150,"y":15.2},{"p":"k","s":"0.05","x":200,"y":14.3},{"p":"k","s":"0.05","x":250,"y":13.5},{"p":"k","s":"0.05","x":300,"y":12.3},{"p":"k","s":"0.05","x":350,"y":11.6},{"p":"k","s":"0.05","x":400,"y":11},{"p":"k","s":"0.05","x":500,"y":10.1},{"p":"k","s":"0.05","x":600,"y":9.3},{"p":"k","s":"0.05","x":698,"y":8.8},
{"p":"k","s":"0.1","x":49,"y":24.2},{"p":"k","s":"0.1","x":60,"y":21.5},{"p":"k","s":"0.1","x":80,"y":18.5},{"p":"k","s":"0.1","x":110,"y":16.5},{"p":"k","s":"0.1","x":150,"y":15.2},{"p":"k","s":"0.1","x":200,"y":14.3},{"p":"k","s":"0.1","x":250,"y":13.8},{"p":"k","s":"0.1","x":300,"y":13},{"p":"k","s":"0.1","x":350,"y":12.4},{"p":"k","s":"0.1","x":400,"y":11.9},{"p":"k","s":"0.1","x":500,"y":11},{"p":"k","s":"0.1","x":600,"y":10.3},{"p":"k","s":"0.1","x":698,"y":9.7},
{"p":"k","s":"0.15","x":49,"y":24.2},{"p":"k","s":"0.15","x":60,"y":21.5},{"p":"k","s":"0.15","x":80,"y":18.5},{"p":"k","s":"0.15","x":110,"y":16.5},{"p":"k","s":"0.15","x":150,"y":15.2},{"p":"k","s":"0.15","x":200,"y":14.3},{"p":"k","s":"0.15","x":250,"y":13.9},{"p":"k","s":"0.15","x":300,"y":13.3},{"p":"k","s":"0.15","x":350,"y":12.9},{"p":"k","s":"0.15","x":400,"y":12.5},{"p":"k","s":"0.15","x":500,"y":11.7},{"p":"k","s":"0.15","x":600,"y":11.2},{"p":"k","s":"0.15","x":698,"y":10.7},
{"p":"k","s":"0.20","x":49,"y":24.2},{"p":"k","s":"0.20","x":60,"y":21.5},{"p":"k","s":"0.20","x":80,"y":18.5},{"p":"k","s":"0.20","x":110,"y":16.5},{"p":"k","s":"0.20","x":150,"y":15.2},{"p":"k","s":"0.20","x":200,"y":14.3},{"p":"k","s":"0.20","x":250,"y":14},{"p":"k","s":"0.20","x":300,"y":13.4},{"p":"k","s":"0.20","x":350,"y":13},{"p":"k","s":"0.20","x":400,"y":12.6},{"p":"k","s":"0.20","x":500,"y":11.9},{"p":"k","s":"0.20","x":600,"y":11.5},{"p":"k","s":"0.20","x":698,"y":11.2},
{"p":"l","s":"0.005","x":49,"y":25.6},{"p":"l","s":"0.005","x":60,"y":23.8},{"p":"l","s":"0.005","x":80,"y":22.3},{"p":"l","s":"0.005","x":110,"y":21.2},{"p":"l","s":"0.005","x":150,"y":20.5},{"p":"l","s":"0.005","x":200,"y":19.5},{"p":"l","s":"0.005","x":250,"y":18.06},{"p":"l","s":"0.005","x":300,"y":17.4},{"p":"l","s":"0.005","x":350,"y":17},{"p":"l","s":"0.005","x":400,"y":16.8},{"p":"l","s":"0.005","x":500,"y":16},{"p":"l","s":"0.005","x":600,"y":15.5},{"p":"l","s":"0.005","x":698,"y":15.25},
{"p":"l","s":"0.01","x":49,"y":25.8},{"p":"l","s":"0.01","x":60,"y":23.8},{"p":"l","s":"0.01","x":80,"y":22.3},{"p":"l","s":"0.01","x":110,"y":21.2},{"p":"l","s":"0.01","x":150,"y":20.5},{"p":"l","s":"0.01","x":200,"y":19.5},{"p":"l","s":"0.01","x":250,"y":18.06},{"p":"l","s":"0.01","x":300,"y":17.4},{"p":"l","s":"0.01","x":350,"y":17},{"p":"l","s":"0.01","x":400,"y":16.8},{"p":"l","s":"0.01","x":500,"y":15.98},{"p":"l","s":"0.01","x":600,"y":15.5},{"p":"l","s":"0.01","x":698,"y":15.2},
{"p":"l","s":"0.05","x":49,"y":25.3},{"p":"l","s":"0.05","x":60,"y":23.8},{"p":"l","s":"0.05","x":80,"y":22.3},{"p":"l","s":"0.05","x":110,"y":21.2},{"p":"l","s":"0.05","x":150,"y":20.5},{"p":"l","s":"0.05","x":200,"y":19.5},{"p":"l","s":"0.05","x":250,"y":18.06},{"p":"l","s":"0.05","x":300,"y":17.5},{"p":"l","s":"0.05","x":350,"y":17.2},{"p":"l","s":"0.05","x":400,"y":17},{"p":"l","s":"0.05","x":500,"y":16.5},{"p":"l","s":"0.05","x":600,"y":16.2},{"p":"l","s":"0.05","x":698,"y":15.98},
{"p":"l","s":"0.1","x":49,"y":25},{"p":"l","s":"0.1","x":60,"y":23.8},{"p":"l","s":"0.1","x":80,"y":22.3},{"p":"l","s":"0.1","x":110,"y":21.2},{"p":"l","s":"0.1","x":150,"y":20.5},{"p":"l","s":"0.1","x":200,"y":19.6},{"p":"l","s":"0.1","x":250,"y":18.7},{"p":"l","s":"0.1","x":300,"y":18.5},{"p":"l","s":"0.1","x":350,"y":18.4},{"p":"l","s":"0.1","x":400,"y":18.2},{"p":"l","s":"0.1","x":500,"y":17.67},{"p":"l","s":"0.1","x":600,"y":17.15},{"p":"l","s":"0.1","x":698,"y":16.89},
{"p":"l","s":"0.15","x":49,"y":24.8},{"p":"l","s":"0.15","x":60,"y":23.8},{"p":"l","s":"0.15","x":80,"y":22.3},{"p":"l","s":"0.15","x":110,"y":21.2},{"p":"l","s":"0.15","x":150,"y":20.5},{"p":"l","s":"0.15","x":200,"y":19.7},{"p":"l","s":"0.15","x":250,"y":19},{"p":"l","s":"0.15","x":300,"y":18.8},{"p":"l","s":"0.15","x":350,"y":18.65},{"p":"l","s":"0.15","x":400,"y":18.35},{"p":"l","s":"0.15","x":500,"y":17.8},{"p":"l","s":"0.15","x":600,"y":17.5},{"p":"l","s":"0.15","x":698,"y":17.28},
{"p":"l","s":"0.20","x":49,"y":24.6},{"p":"l","s":"0.20","x":60,"y":23.8},{"p":"l","s":"0.20","x":80,"y":22.3},{"p":"l","s":"0.20","x":110,"y":21.2},{"p":"l","s":"0.20","x":150,"y":20.5},{"p":"l","s":"0.20","x":200,"y":19.7},{"p":"l","s":"0.20","x":250,"y":19.09},{"p":"l","s":"0.20","x":300,"y":18.9},{"p":"l","s":"0.20","x":350,"y":18.8},{"p":"l","s":"0.20","x":400,"y":18.45},{"p":"l","s":"0.20","x":500,"y":18.06},{"p":"l","s":"0.20","x":600,"y":17.8},{"p":"l","s":"0.20","x":698,"y":17.54}
]},
"columns":1,
"align":"none",
"spacing":31,
"concat":[
{"hconcat":[
{"width":1,"height":142,"data":{"values":[]},"mark":"point","view":{"stroke":null}},
{"width":260,"height":142,"transform":[{"filter":"datum.p=='a'"}],"title":{"text":"(a) SMSE in N17E073"},"layer":[
{"data":{"name":"bands"},"transform":[{"filter":"datum.p=='a'"}],"mark":{"type":"area","opacity":0.25,"clip":true},"encoding":{"x":{"field":"x","type":"quantitative","scale":{"domain":[49,698],"nice":false},"axis":null},"y":{"field":"lo","type":"quantitative","stack":null,"scale":{"domain":[0.075,0.242],"nice":false,"zero":false},"axis":null},"y2":{"field":"hi"},"fill":{"field":"s","type":"nominal","scale":{"domain":["0.005","0.01","0.05","0.1","0.15","0.20"]},"legend":null}}},
{"mark":{"type":"line","clip":true},"encoding":{"x":{"field":"x","type":"quantitative","scale":{"domain":[49,698],"nice":false},"axis":{"orient":"bottom","title":null,"values":[100,150,200,250,300,350,400,450,500,550,600,650],"labelExpr":"datum.value==250||datum.value==500?datum.label:''","gridOpacity":{"condition":{"test":"datum.value==250||datum.value==500","value":1},"value":0},"tickSize":{"condition":{"test":"datum.value==250||datum.value==500","value":-7},"value":-4},"labelPadding":19}},"y":{"field":"y","type":"quantitative","scale":{"domain":[0.075,0.242],"nice":false,"zero":false},"axis":{"orient":"left","title":null,"values":[0.08,0.1,0.12,0.14,0.16,0.18,0.2,0.22,0.24],"format":".2f","labelExpr":"indexof([0.1,0.2],datum.value)>=0?replace(datum.label,'−','-'):''","gridOpacity":{"condition":{"test":"indexof([0.1,0.2],datum.value)>=0","value":1},"value":0},"tickSize":{"condition":{"test":"indexof([0.1,0.2],datum.value)>=0","value":-7},"value":-4},"labelPadding":22}},"color":{"field":"s","type":"nominal","legend":{"orient":"none","legendX":6,"legendY":-72,"direction":"horizontal","columns":6,"title":null,"symbolType":"stroke","symbolSize":2400,"symbolStrokeWidth":3,"symbolOpacity":1,"labelFontSize":24,"labelFont":"Liberation Sans","labelColor":"#000","columnPadding":39,"labelOffset":19,"labelExpr":"'ℓₘᵢₙ = '+datum.label"}}}},
{"mark":{"type":"line","strokeOpacity":0},"encoding":{"x":{"field":"x","type":"quantitative","scale":{"domain":[49,698],"nice":false},"axis":{"orient":"top","title":null,"labels":false,"grid":false,"values":[100,150,200,250,300,350,400,450,500,550,600,650],"tickSize":{"condition":{"test":"datum.value==250||datum.value==500","value":-7},"value":-4}}},"y":{"field":"y","type":"quantitative","scale":{"domain":[0.075,0.242],"nice":false,"zero":false},"axis":{"orient":"right","title":null,"labels":false,"grid":false,"values":[0.08,0.1,0.12,0.14,0.16,0.18,0.2,0.22,0.24],"tickSize":{"condition":{"test":"indexof([0.1,0.2],datum.value)>=0","value":-7},"value":-4}}}}}
],"resolve":{"axis":{"x":"independent","y":"independent"}}},
{"width":260,"height":142,"transform":[{"filter":"datum.p=='b'"}],"title":{"text":"(b) SMSE in N43W080"},"layer":[
{"mark":{"type":"line","clip":true},"encoding":{"x":{"field":"x","type":"quantitative","scale":{"domain":[49,698],"nice":false},"axis":{"orient":"bottom","title":null,"values":[100,150,200,250,300,350,400,450,500,550,600,650],"labelExpr":"datum.value==250||datum.value==500?datum.label:''","gridOpacity":{"condition":{"test":"datum.value==250||datum.value==500","value":1},"value":0},"tickSize":{"condition":{"test":"datum.value==250||datum.value==500","value":-7},"value":-4},"labelPadding":19}},"y":{"field":"y","type":"quantitative","scale":{"domain":[0.019,0.352],"nice":false,"zero":false},"axis":{"orient":"left","title":null,"values":[0.0333,0.0667,0.1,0.1333,0.1667,0.2,0.2333,0.2667,0.3,0.3333],"format":".2f","labelExpr":"indexof([0.1,0.2,0.3],datum.value)>=0?replace(datum.label,'−','-'):''","gridOpacity":{"condition":{"test":"indexof([0.1,0.2,0.3],datum.value)>=0","value":1},"value":0},"tickSize":{"condition":{"test":"indexof([0.1,0.2,0.3],datum.value)>=0","value":-7},"value":-4},"labelPadding":22}},"color":{"field":"s","type":"nominal"}}},
{"mark":{"type":"line","strokeOpacity":0},"encoding":{"x":{"field":"x","type":"quantitative","scale":{"domain":[49,698],"nice":false},"axis":{"orient":"top","title":null,"labels":false,"grid":false,"values":[100,150,200,250,300,350,400,450,500,550,600,650],"tickSize":{"condition":{"test":"datum.value==250||datum.value==500","value":-7},"value":-4}}},"y":{"field":"y","type":"quantitative","scale":{"domain":[0.019,0.352],"nice":false,"zero":false},"axis":{"orient":"right","title":null,"labels":false,"grid":false,"values":[0.0333,0.0667,0.1,0.1333,0.1667,0.2,0.2333,0.2667,0.3,0.3333],"tickSize":{"condition":{"test":"indexof([0.1,0.2,0.3],datum.value)>=0","value":-7},"value":-4}}}}}
],"resolve":{"axis":{"x":"independent","y":"independent"}}},
{"width":260,"height":142,"transform":[{"filter":"datum.p=='c'"}],"title":{"text":"(c) SMSE in N45W123"},"layer":[
{"data":{"name":"bands"},"transform":[{"filter":"datum.p=='c'"}],"mark":{"type":"area","opacity":0.25,"clip":true},"encoding":{"x":{"field":"x","type":"quantitative","scale":{"domain":[49,698],"nice":false},"axis":null},"y":{"field":"lo","type":"quantitative","stack":null,"scale":{"domain":[0.085,0.488],"nice":false,"zero":false},"axis":null},"y2":{"field":"hi"},"fill":{"field":"s","type":"nominal","scale":{"domain":["0.005","0.01","0.05","0.1","0.15","0.20"]},"legend":null}}},
{"mark":{"type":"line","clip":true},"encoding":{"x":{"field":"x","type":"quantitative","scale":{"domain":[49,698],"nice":false},"axis":{"orient":"bottom","title":null,"values":[100,150,200,250,300,350,400,450,500,550,600,650],"labelExpr":"datum.value==250||datum.value==500?datum.label:''","gridOpacity":{"condition":{"test":"datum.value==250||datum.value==500","value":1},"value":0},"tickSize":{"condition":{"test":"datum.value==250||datum.value==500","value":-7},"value":-4},"labelPadding":19}},"y":{"field":"y","type":"quantitative","scale":{"domain":[0.085,0.488],"nice":false,"zero":false},"axis":{"orient":"left","title":null,"values":[0.1,0.15,0.2,0.25,0.3,0.35,0.4,0.45],"format":".2f","labelExpr":"indexof([0.2,0.4],datum.value)>=0?replace(datum.label,'−','-'):''","gridOpacity":{"condition":{"test":"indexof([0.2,0.4],datum.value)>=0","value":1},"value":0},"tickSize":{"condition":{"test":"indexof([0.2,0.4],datum.value)>=0","value":-7},"value":-4},"labelPadding":22}},"color":{"field":"s","type":"nominal"}}},
{"mark":{"type":"line","strokeOpacity":0},"encoding":{"x":{"field":"x","type":"quantitative","scale":{"domain":[49,698],"nice":false},"axis":{"orient":"top","title":null,"labels":false,"grid":false,"values":[100,150,200,250,300,350,400,450,500,550,600,650],"tickSize":{"condition":{"test":"datum.value==250||datum.value==500","value":-7},"value":-4}}},"y":{"field":"y","type":"quantitative","scale":{"domain":[0.085,0.488],"nice":false,"zero":false},"axis":{"orient":"right","title":null,"labels":false,"grid":false,"values":[0.1,0.15,0.2,0.25,0.3,0.35,0.4,0.45],"tickSize":{"condition":{"test":"indexof([0.2,0.4],datum.value)>=0","value":-7},"value":-4}}}}}
],"resolve":{"axis":{"x":"independent","y":"independent"}}},
{"width":260,"height":142,"transform":[{"filter":"datum.p=='d'"}],"title":{"text":"(d) SMSE in N47W124"},"layer":[
{"data":{"name":"bands"},"transform":[{"filter":"datum.p=='d'"}],"mark":{"type":"area","opacity":0.25,"clip":true},"encoding":{"x":{"field":"x","type":"quantitative","scale":{"domain":[49,698],"nice":false},"axis":null},"y":{"field":"lo","type":"quantitative","stack":null,"scale":{"domain":[0.141,0.319],"nice":false,"zero":false},"axis":null},"y2":{"field":"hi"},"fill":{"field":"s","type":"nominal","scale":{"domain":["0.005","0.01","0.05","0.1","0.15","0.20"]},"legend":null}}},
{"mark":{"type":"line","clip":true},"encoding":{"x":{"field":"x","type":"quantitative","scale":{"domain":[49,698],"nice":false},"axis":{"orient":"bottom","title":null,"values":[100,150,200,250,300,350,400,450,500,550,600,650],"labelExpr":"datum.value==250||datum.value==500?datum.label:''","gridOpacity":{"condition":{"test":"datum.value==250||datum.value==500","value":1},"value":0},"tickSize":{"condition":{"test":"datum.value==250||datum.value==500","value":-7},"value":-4},"labelPadding":19}},"y":{"field":"y","type":"quantitative","scale":{"domain":[0.141,0.319],"nice":false,"zero":false},"axis":{"orient":"left","title":null,"values":[0.16,0.18,0.2,0.22,0.24,0.26,0.28,0.3],"format":".2f","labelExpr":"indexof([0.2,0.3],datum.value)>=0?replace(datum.label,'−','-'):''","gridOpacity":{"condition":{"test":"indexof([0.2,0.3],datum.value)>=0","value":1},"value":0},"tickSize":{"condition":{"test":"indexof([0.2,0.3],datum.value)>=0","value":-7},"value":-4},"labelPadding":22}},"color":{"field":"s","type":"nominal"}}},
{"mark":{"type":"line","strokeOpacity":0},"encoding":{"x":{"field":"x","type":"quantitative","scale":{"domain":[49,698],"nice":false},"axis":{"orient":"top","title":null,"labels":false,"grid":false,"values":[100,150,200,250,300,350,400,450,500,550,600,650],"tickSize":{"condition":{"test":"datum.value==250||datum.value==500","value":-7},"value":-4}}},"y":{"field":"y","type":"quantitative","scale":{"domain":[0.141,0.319],"nice":false,"zero":false},"axis":{"orient":"right","title":null,"labels":false,"grid":false,"values":[0.16,0.18,0.2,0.22,0.24,0.26,0.28,0.3],"tickSize":{"condition":{"test":"indexof([0.2,0.3],datum.value)>=0","value":-7},"value":-4}}}}}
],"resolve":{"axis":{"x":"independent","y":"independent"}}}
],"spacing":68,"bounds":"flush"},
{"hconcat":[
{"width":1,"height":143,"data":{"values":[]},"mark":"point","view":{"stroke":null}},
{"width":252,"height":143,"transform":[{"filter":"datum.p=='e'"}],"title":{"text":"(e) MSLL in N17E073"},"layer":[
{"mark":{"type":"line","clip":true},"encoding":{"x":{"field":"x","type":"quantitative","scale":{"domain":[49,698],"nice":false},"axis":{"orient":"bottom","title":null,"values":[100,150,200,250,300,350,400,450,500,550,600,650],"labelExpr":"datum.value==250||datum.value==500?datum.label:''","gridOpacity":{"condition":{"test":"datum.value==250||datum.value==500","value":1},"value":0},"tickSize":{"condition":{"test":"datum.value==250||datum.value==500","value":-7},"value":-4},"labelPadding":19}},"y":{"field":"y","type":"quantitative","scale":{"domain":[-1.626,-0.28],"nice":false,"zero":false},"axis":{"orient":"left","title":null,"values":[-1.6,-1.5,-1.4,-1.3,-1.2,-1.1,-1,-0.9,-0.8,-0.7,-0.6,-0.5,-0.4,-0.3],"format":".2f","labelExpr":"indexof([-1.5,-1,-0.5],datum.value)>=0?replace(datum.label,'−','-'):''","gridOpacity":{"condition":{"test":"indexof([-1.5,-1,-0.5],datum.value)>=0","value":1},"value":0},"tickSize":{"condition":{"test":"indexof([-1.5,-1,-0.5],datum.value)>=0","value":-7},"value":-4},"labelPadding":22}},"color":{"field":"s","type":"nominal"}}},
{"mark":{"type":"line","strokeOpacity":0},"encoding":{"x":{"field":"x","type":"quantitative","scale":{"domain":[49,698],"nice":false},"axis":{"orient":"top","title":null,"labels":false,"grid":false,"values":[100,150,200,250,300,350,400,450,500,550,600,650],"tickSize":{"condition":{"test":"datum.value==250||datum.value==500","value":-7},"value":-4}}},"y":{"field":"y","type":"quantitative","scale":{"domain":[-1.626,-0.28],"nice":false,"zero":false},"axis":{"orient":"right","title":null,"labels":false,"grid":false,"values":[-1.6,-1.5,-1.4,-1.3,-1.2,-1.1,-1,-0.9,-0.8,-0.7,-0.6,-0.5,-0.4,-0.3],"tickSize":{"condition":{"test":"indexof([-1.5,-1,-0.5],datum.value)>=0","value":-7},"value":-4}}}}}
],"resolve":{"axis":{"x":"independent","y":"independent"}}},
{"width":252,"height":143,"transform":[{"filter":"datum.p=='f'"}],"title":{"text":"(f) MSLL in N43W080"},"layer":[
{"data":{"name":"bands"},"transform":[{"filter":"datum.p=='f'"}],"mark":{"type":"area","opacity":0.25,"clip":true},"encoding":{"x":{"field":"x","type":"quantitative","scale":{"domain":[49,698],"nice":false},"axis":null},"y":{"field":"lo","type":"quantitative","stack":null,"scale":{"domain":[-2.605,-0.29],"nice":false,"zero":false},"axis":null},"y2":{"field":"hi"},"fill":{"field":"s","type":"nominal","scale":{"domain":["0.005","0.01","0.05","0.1","0.15","0.20"]},"legend":null}}},
{"mark":{"type":"line","clip":true},"encoding":{"x":{"field":"x","type":"quantitative","scale":{"domain":[49,698],"nice":false},"axis":{"orient":"bottom","title":null,"values":[100,150,200,250,300,350,400,450,500,550,600,650],"labelExpr":"datum.value==250||datum.value==500?datum.label:''","gridOpacity":{"condition":{"test":"datum.value==250||datum.value==500","value":1},"value":0},"tickSize":{"condition":{"test":"datum.value==250||datum.value==500","value":-7},"value":-4},"labelPadding":19}},"y":{"field":"y","type":"quantitative","scale":{"domain":[-2.605,-0.29],"nice":false,"zero":false},"axis":{"orient":"left","title":null,"values":[-2.5,-2.25,-2,-1.75,-1.5,-1.25,-1,-0.75,-0.5],"format":".2f","labelExpr":"indexof([-2,-1],datum.value)>=0?replace(datum.label,'−','-'):''","gridOpacity":{"condition":{"test":"indexof([-2,-1],datum.value)>=0","value":1},"value":0},"tickSize":{"condition":{"test":"indexof([-2,-1],datum.value)>=0","value":-7},"value":-4},"labelPadding":22}},"color":{"field":"s","type":"nominal"}}},
{"mark":{"type":"line","strokeOpacity":0},"encoding":{"x":{"field":"x","type":"quantitative","scale":{"domain":[49,698],"nice":false},"axis":{"orient":"top","title":null,"labels":false,"grid":false,"values":[100,150,200,250,300,350,400,450,500,550,600,650],"tickSize":{"condition":{"test":"datum.value==250||datum.value==500","value":-7},"value":-4}}},"y":{"field":"y","type":"quantitative","scale":{"domain":[-2.605,-0.29],"nice":false,"zero":false},"axis":{"orient":"right","title":null,"labels":false,"grid":false,"values":[-2.5,-2.25,-2,-1.75,-1.5,-1.25,-1,-0.75,-0.5],"tickSize":{"condition":{"test":"indexof([-2,-1],datum.value)>=0","value":-7},"value":-4}}}}}
],"resolve":{"axis":{"x":"independent","y":"independent"}}},
{"width":252,"height":143,"transform":[{"filter":"datum.p=='g'"}],"title":{"text":"(g) MSLL in N45W123"},"layer":[
{"mark":{"type":"line","clip":true},"encoding":{"x":{"field":"x","type":"quantitative","scale":{"domain":[49,698],"nice":false},"axis":{"orient":"bottom","title":null,"values":[100,150,200,250,300,350,400,450,500,550,600,650],"labelExpr":"datum.value==250||datum.value==500?datum.label:''","gridOpacity":{"condition":{"test":"datum.value==250||datum.value==500","value":1},"value":0},"tickSize":{"condition":{"test":"datum.value==250||datum.value==500","value":-7},"value":-4},"labelPadding":19}},"y":{"field":"y","type":"quantitative","scale":{"domain":[-1.702,-0.33],"nice":false,"zero":false},"axis":{"orient":"left","title":null,"values":[-1.6,-1.5,-1.4,-1.3,-1.2,-1.1,-1,-0.9,-0.8,-0.7,-0.6,-0.5,-0.4],"format":".2f","labelExpr":"indexof([-1.5,-1,-0.5],datum.value)>=0?replace(datum.label,'−','-'):''","gridOpacity":{"condition":{"test":"indexof([-1.5,-1,-0.5],datum.value)>=0","value":1},"value":0},"tickSize":{"condition":{"test":"indexof([-1.5,-1,-0.5],datum.value)>=0","value":-7},"value":-4},"labelPadding":22}},"color":{"field":"s","type":"nominal"}}},
{"mark":{"type":"line","strokeOpacity":0},"encoding":{"x":{"field":"x","type":"quantitative","scale":{"domain":[49,698],"nice":false},"axis":{"orient":"top","title":null,"labels":false,"grid":false,"values":[100,150,200,250,300,350,400,450,500,550,600,650],"tickSize":{"condition":{"test":"datum.value==250||datum.value==500","value":-7},"value":-4}}},"y":{"field":"y","type":"quantitative","scale":{"domain":[-1.702,-0.33],"nice":false,"zero":false},"axis":{"orient":"right","title":null,"labels":false,"grid":false,"values":[-1.6,-1.5,-1.4,-1.3,-1.2,-1.1,-1,-0.9,-0.8,-0.7,-0.6,-0.5,-0.4],"tickSize":{"condition":{"test":"indexof([-1.5,-1,-0.5],datum.value)>=0","value":-7},"value":-4}}}}}
],"resolve":{"axis":{"x":"independent","y":"independent"}}},
{"width":252,"height":143,"transform":[{"filter":"datum.p=='h'"}],"title":{"text":"(h) MSLL in N47W124"},"layer":[
{"mark":{"type":"line","clip":true},"encoding":{"x":{"field":"x","type":"quantitative","scale":{"domain":[49,698],"nice":false},"axis":{"orient":"bottom","title":null,"values":[100,150,200,250,300,350,400,450,500,550,600,650],"labelExpr":"datum.value==250||datum.value==500?datum.label:''","gridOpacity":{"condition":{"test":"datum.value==250||datum.value==500","value":1},"value":0},"tickSize":{"condition":{"test":"datum.value==250||datum.value==500","value":-7},"value":-4},"labelPadding":19}},"y":{"field":"y","type":"quantitative","scale":{"domain":[-1.434,-0.21],"nice":false,"zero":false},"axis":{"orient":"left","title":null,"values":[-1.4,-1.3,-1.2,-1.1,-1,-0.9,-0.8,-0.7,-0.6,-0.5,-0.4,-0.3],"format":".2f","labelExpr":"indexof([-1,-0.5],datum.value)>=0?replace(datum.label,'−','-'):''","gridOpacity":{"condition":{"test":"indexof([-1,-0.5],datum.value)>=0","value":1},"value":0},"tickSize":{"condition":{"test":"indexof([-1,-0.5],datum.value)>=0","value":-7},"value":-4},"labelPadding":22}},"color":{"field":"s","type":"nominal"}}},
{"mark":{"type":"line","strokeOpacity":0},"encoding":{"x":{"field":"x","type":"quantitative","scale":{"domain":[49,698],"nice":false},"axis":{"orient":"top","title":null,"labels":false,"grid":false,"values":[100,150,200,250,300,350,400,450,500,550,600,650],"tickSize":{"condition":{"test":"datum.value==250||datum.value==500","value":-7},"value":-4}}},"y":{"field":"y","type":"quantitative","scale":{"domain":[-1.434,-0.21],"nice":false,"zero":false},"axis":{"orient":"right","title":null,"labels":false,"grid":false,"values":[-1.4,-1.3,-1.2,-1.1,-1,-0.9,-0.8,-0.7,-0.6,-0.5,-0.4,-0.3],"tickSize":{"condition":{"test":"indexof([-1,-0.5],datum.value)>=0","value":-7},"value":-4}}}}}
],"resolve":{"axis":{"x":"independent","y":"independent"}}}
],"spacing":76,"bounds":"flush"},
{"hconcat":[
{"width":1,"height":142,"data":{"values":[]},"mark":"point","view":{"stroke":null}},
{"width":246,"height":142,"transform":[{"filter":"datum.p=='i'"}],"title":{"text":"(i) MAE in N17E073"},"layer":[
{"data":{"name":"bands"},"transform":[{"filter":"datum.p=='i'"}],"mark":{"type":"area","opacity":0.25,"clip":true},"encoding":{"x":{"field":"x","type":"quantitative","scale":{"domain":[49,698],"nice":false},"axis":null},"y":{"field":"lo","type":"quantitative","stack":null,"scale":{"domain":[11.9,24.06],"nice":false,"zero":false},"axis":null},"y2":{"field":"hi"},"fill":{"field":"s","type":"nominal","scale":{"domain":["0.005","0.01","0.05","0.1","0.15","0.20"]},"legend":null}}},
{"mark":{"type":"line","clip":true},"encoding":{"x":{"field":"x","type":"quantitative","scale":{"domain":[49,698],"nice":false},"axis":{"orient":"bottom","title":null,"values":[100,150,200,250,300,350,400,450,500,550,600,650],"labelExpr":"datum.value==250||datum.value==500?datum.label:''","gridOpacity":{"condition":{"test":"datum.value==250||datum.value==500","value":1},"value":0},"tickSize":{"condition":{"test":"datum.value==250||datum.value==500","value":-7},"value":-4},"labelPadding":19}},"y":{"field":"y","type":"quantitative","scale":{"domain":[11.9,24.06],"nice":false,"zero":false},"axis":{"orient":"left","title":null,"values":[12,13,14,15,16,17,18,19,20,21,22,23,24],"format":".2f","labelExpr":"indexof([15,20],datum.value)>=0?replace(datum.label,'−','-'):''","gridOpacity":{"condition":{"test":"indexof([15,20],datum.value)>=0","value":1},"value":0},"tickSize":{"condition":{"test":"indexof([15,20],datum.value)>=0","value":-7},"value":-4},"labelPadding":22}},"color":{"field":"s","type":"nominal"}}},
{"mark":{"type":"line","strokeOpacity":0},"encoding":{"x":{"field":"x","type":"quantitative","scale":{"domain":[49,698],"nice":false},"axis":{"orient":"top","title":null,"labels":false,"grid":false,"values":[100,150,200,250,300,350,400,450,500,550,600,650],"tickSize":{"condition":{"test":"datum.value==250||datum.value==500","value":-7},"value":-4}}},"y":{"field":"y","type":"quantitative","scale":{"domain":[11.9,24.06],"nice":false,"zero":false},"axis":{"orient":"right","title":null,"labels":false,"grid":false,"values":[12,13,14,15,16,17,18,19,20,21,22,23,24],"tickSize":{"condition":{"test":"indexof([15,20],datum.value)>=0","value":-7},"value":-4}}}}}
],"resolve":{"axis":{"x":"independent","y":"independent"}}},
{"width":246,"height":142,"transform":[{"filter":"datum.p=='j'"}],"title":{"text":"(j) MAE in N43W080"},"layer":[
{"data":{"name":"bands"},"transform":[{"filter":"datum.p=='j'"}],"mark":{"type":"area","opacity":0.25,"clip":true},"encoding":{"x":{"field":"x","type":"quantitative","scale":{"domain":[49,698],"nice":false},"axis":null},"y":{"field":"lo","type":"quantitative","stack":null,"scale":{"domain":[3.56,22.44],"nice":false,"zero":false},"axis":null},"y2":{"field":"hi"},"fill":{"field":"s","type":"nominal","scale":{"domain":["0.005","0.01","0.05","0.1","0.15","0.20"]},"legend":null}}},
{"mark":{"type":"line","clip":true},"encoding":{"x":{"field":"x","type":"quantitative","scale":{"domain":[49,698],"nice":false},"axis":{"orient":"bottom","title":null,"values":[100,150,200,250,300,350,400,450,500,550,600,650],"labelExpr":"datum.value==250||datum.value==500?datum.label:''","gridOpacity":{"condition":{"test":"datum.value==250||datum.value==500","value":1},"value":0},"tickSize":{"condition":{"test":"datum.value==250||datum.value==500","value":-7},"value":-4},"labelPadding":19}},"y":{"field":"y","type":"quantitative","scale":{"domain":[3.56,22.44],"nice":false,"zero":false},"axis":{"orient":"left","title":null,"values":[4,6,8,10,12,14,16,18,20,22],"format":".2f","labelExpr":"indexof([10,20],datum.value)>=0?replace(datum.label,'−','-'):''","gridOpacity":{"condition":{"test":"indexof([10,20],datum.value)>=0","value":1},"value":0},"tickSize":{"condition":{"test":"indexof([10,20],datum.value)>=0","value":-7},"value":-4},"labelPadding":22}},"color":{"field":"s","type":"nominal"}}},
{"mark":{"type":"line","strokeOpacity":0},"encoding":{"x":{"field":"x","type":"quantitative","scale":{"domain":[49,698],"nice":false},"axis":{"orient":"top","title":null,"labels":false,"grid":false,"values":[100,150,200,250,300,350,400,450,500,550,600,650],"tickSize":{"condition":{"test":"datum.value==250||datum.value==500","value":-7},"value":-4}}},"y":{"field":"y","type":"quantitative","scale":{"domain":[3.56,22.44],"nice":false,"zero":false},"axis":{"orient":"right","title":null,"labels":false,"grid":false,"values":[4,6,8,10,12,14,16,18,20,22],"tickSize":{"condition":{"test":"indexof([10,20],datum.value)>=0","value":-7},"value":-4}}}}}
],"resolve":{"axis":{"x":"independent","y":"independent"}}},
{"width":246,"height":142,"transform":[{"filter":"datum.p=='k'"}],"title":{"text":"(k) MAE in N45W123"},"layer":[
{"mark":{"type":"line","clip":true},"encoding":{"x":{"field":"x","type":"quantitative","scale":{"domain":[49,698],"nice":false},"axis":{"orient":"bottom","title":null,"values":[100,150,200,250,300,350,400,450,500,550,600,650],"labelExpr":"datum.value==250||datum.value==500?datum.label:''","gridOpacity":{"condition":{"test":"datum.value==250||datum.value==500","value":1},"value":0},"tickSize":{"condition":{"test":"datum.value==250||datum.value==500","value":-7},"value":-4},"labelPadding":19}},"y":{"field":"y","type":"quantitative","scale":{"domain":[8.28,24.6],"nice":false,"zero":false},"axis":{"orient":"left","title":null,"values":[10,12,14,16,18,20,22,24],"format":".2f","labelExpr":"indexof([10,20],datum.value)>=0?replace(datum.label,'−','-'):''","gridOpacity":{"condition":{"test":"indexof([10,20],datum.value)>=0","value":1},"value":0},"tickSize":{"condition":{"test":"indexof([10,20],datum.value)>=0","value":-7},"value":-4},"labelPadding":22}},"color":{"field":"s","type":"nominal"}}},
{"mark":{"type":"line","strokeOpacity":0},"encoding":{"x":{"field":"x","type":"quantitative","scale":{"domain":[49,698],"nice":false},"axis":{"orient":"top","title":null,"labels":false,"grid":false,"values":[100,150,200,250,300,350,400,450,500,550,600,650],"tickSize":{"condition":{"test":"datum.value==250||datum.value==500","value":-7},"value":-4}}},"y":{"field":"y","type":"quantitative","scale":{"domain":[8.28,24.6],"nice":false,"zero":false},"axis":{"orient":"right","title":null,"labels":false,"grid":false,"values":[10,12,14,16,18,20,22,24],"tickSize":{"condition":{"test":"indexof([10,20],datum.value)>=0","value":-7},"value":-4}}}}}
],"resolve":{"axis":{"x":"independent","y":"independent"}}},
{"width":246,"height":142,"transform":[{"filter":"datum.p=='l'"}],"title":{"text":"(l) MAE in N47W124"},"layer":[
{"data":{"name":"bands"},"transform":[{"filter":"datum.p=='l'"}],"mark":{"type":"area","opacity":0.25,"clip":true},"encoding":{"x":{"field":"x","type":"quantitative","scale":{"domain":[49,698],"nice":false},"axis":null},"y":{"field":"lo","type":"quantitative","stack":null,"scale":{"domain":[14.95,25.96],"nice":false,"zero":false},"axis":null},"y2":{"field":"hi"},"fill":{"field":"s","type":"nominal","scale":{"domain":["0.005","0.01","0.05","0.1","0.15","0.20"]},"legend":null}}},
{"mark":{"type":"line","clip":true},"encoding":{"x":{"field":"x","type":"quantitative","scale":{"domain":[49,698],"nice":false},"axis":{"orient":"bottom","title":null,"values":[100,150,200,250,300,350,400,450,500,550,600,650],"labelExpr":"datum.value==250||datum.value==500?datum.label:''","gridOpacity":{"condition":{"test":"datum.value==250||datum.value==500","value":1},"value":0},"tickSize":{"condition":{"test":"datum.value==250||datum.value==500","value":-7},"value":-4},"labelPadding":19}},"y":{"field":"y","type":"quantitative","scale":{"domain":[14.95,25.96],"nice":false,"zero":false},"axis":{"orient":"left","title":null,"values":[15,16,17,18,19,20,21,22,23,24,25],"format":".2f","labelExpr":"indexof([15,20,25],datum.value)>=0?replace(datum.label,'−','-'):''","gridOpacity":{"condition":{"test":"indexof([15,20,25],datum.value)>=0","value":1},"value":0},"tickSize":{"condition":{"test":"indexof([15,20,25],datum.value)>=0","value":-7},"value":-4},"labelPadding":22}},"color":{"field":"s","type":"nominal"}}},
{"mark":{"type":"line","strokeOpacity":0},"encoding":{"x":{"field":"x","type":"quantitative","scale":{"domain":[49,698],"nice":false},"axis":{"orient":"top","title":null,"labels":false,"grid":false,"values":[100,150,200,250,300,350,400,450,500,550,600,650],"tickSize":{"condition":{"test":"datum.value==250||datum.value==500","value":-7},"value":-4}}},"y":{"field":"y","type":"quantitative","scale":{"domain":[14.95,25.96],"nice":false,"zero":false},"axis":{"orient":"right","title":null,"labels":false,"grid":false,"values":[15,16,17,18,19,20,21,22,23,24,25],"tickSize":{"condition":{"test":"indexof([15,20,25],datum.value)>=0","value":-7},"value":-4}}}}}
],"resolve":{"axis":{"x":"independent","y":"independent"}}}
],"spacing":82,"bounds":"flush"}
],
"config":{
"font":"Liberation Sans",
"view":{"stroke":"#000","strokeWidth":1.5},
"axis":{"labelFont":"Liberation Sans","labelFontSize":24,"labelColor":"#000","tickColor":"#000","tickWidth":1.3,"domain":false,"gridColor":"#b0b0b0","gridWidth":1.2,"labelOverlap":false},
"title":{"font":"Liberation Sans","fontSize":20,"fontWeight":"normal","color":"#000","orient":"bottom","anchor":"middle","frame":"bounds","offset":4},
"range":{"category":["#0C5DA5","#00B945","#FF9500","#FF2C00","#845B97","#474747"]},
"line":{"strokeWidth":2.6}
}
}
